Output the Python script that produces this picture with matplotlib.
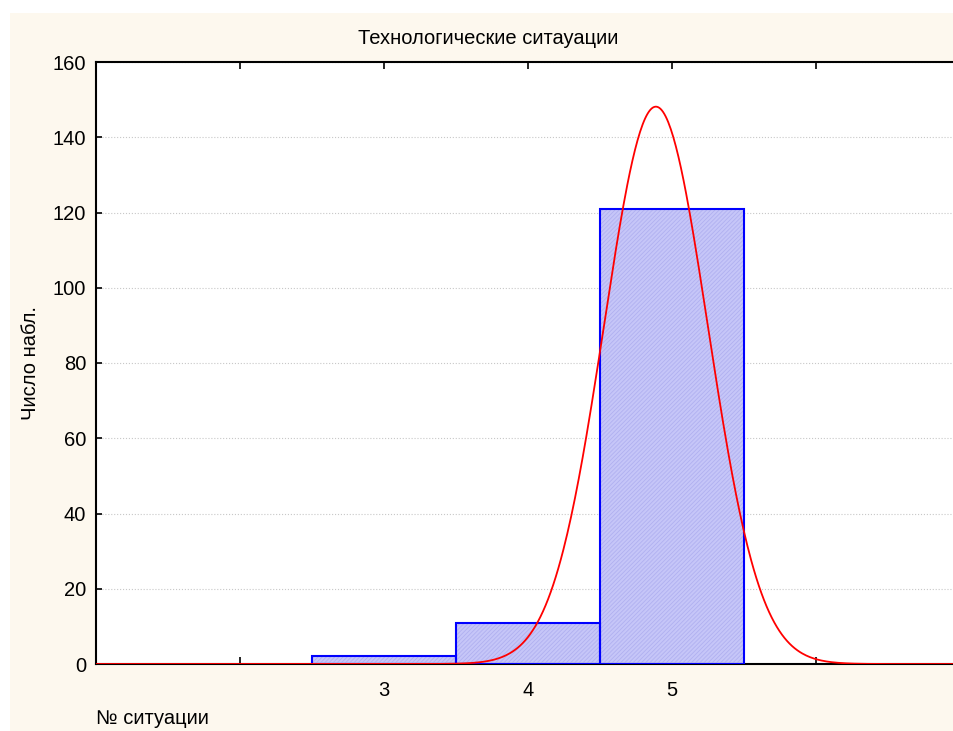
import numpy as np
import matplotlib
matplotlib.use("Agg")
import matplotlib.pyplot as plt
from matplotlib.patches import Rectangle

plt.rcParams['font.family'] = ['Liberation Sans', 'DejaVu Sans']
plt.rcParams['hatch.linewidth'] = 0.6

# Data
categories = [3, 4, 5]
counts = [2, 11, 121]
tick_positions = [2, 3, 4, 5, 6]
tick_labels = ['', '3', '4', '5', '']
yticks = [0, 20, 40, 60, 80, 100, 120, 140, 160]
title = 'Технологические ситауации'
xlabel = '№ ситуации'
ylabel = 'Число набл.'

W, H = 954, 731
fig = plt.figure(figsize=(W / 100, H / 100), dpi=100)
fig.patch.set_facecolor('white')
fig.patches.append(Rectangle((10 / W, 0), 1 - 10 / W, 1 - 13 / H, transform=fig.transFigure,
                             facecolor='#FDF8EE', edgecolor='none', zorder=-10))

ax_left_px, ax_right_px, ax_top_px, ax_bot_px = 96, 964, 62, 664
ax = fig.add_axes([ax_left_px / W, (H - ax_bot_px) / H,
                   (ax_right_px - ax_left_px) / W, (ax_bot_px - ax_top_px) / H])
ax.set_facecolor('white')

# bars
ax.bar(categories, counts, width=1.0, color='#C6C6F8', edgecolor='none', zorder=2)
ax.bar(categories, counts, width=1.0, fill=False, hatch='////////', edgecolor='#B0B0F0', linewidth=0, zorder=3)
ax.bar(categories, counts, width=1.0, fill=False, edgecolor='#0000FF', linewidth=1.5, zorder=4)

# fitted normal curve
vals = np.repeat(categories, counts)
n = len(vals)
mu = vals.mean()
sd = vals.std(ddof=1)
xs = np.linspace(1, 7.2, 700)
ys = n * 1.0 * np.exp(-0.5 * ((xs - mu) / sd) ** 2) / (sd * np.sqrt(2 * np.pi))
ax.plot(xs, ys, color='#FF0000', linewidth=1.3, zorder=5)

px_per_unit = 144.0
ax.set_xlim(1, 1 + (ax_right_px - ax_left_px) / px_per_unit)
ax.set_ylim(0, 160)
ax.set_xticks(tick_positions)
ax.set_xticklabels(tick_labels)
ax.set_yticks(yticks)
ax.set_yticklabels([str(v) for v in yticks])
ax.tick_params(axis='x', direction='in', top=True, bottom=True, length=5, width=1.2,
               labelsize=14.5, pad=12)
ax.tick_params(axis='y', direction='in', left=True, right=False, length=4, width=1.2,
               labelsize=14.5, pad=7)
ax.yaxis.grid(True, color='#C8C8C8', linestyle=':', linewidth=0.8, zorder=0)
ax.set_axisbelow(True)

for s in ['left', 'top', 'bottom']:
    ax.spines[s].set_linewidth(1.5)
    ax.spines[s].set_color('black')
ax.spines['right'].set_visible(False)

fig.text(488 / W, 1 - 38 / H, title, ha='center', va='center', fontsize=14.5)
fig.text(31 / W, 1 - 363 / H, ylabel, ha='center', va='center', rotation=90, fontsize=14.5)
fig.text(96 / W, 1 - 718 / H, xlabel, ha='left', va='center', fontsize=14.5)

fig.savefig('out.png', dpi=100, facecolor=fig.get_facecolor())
